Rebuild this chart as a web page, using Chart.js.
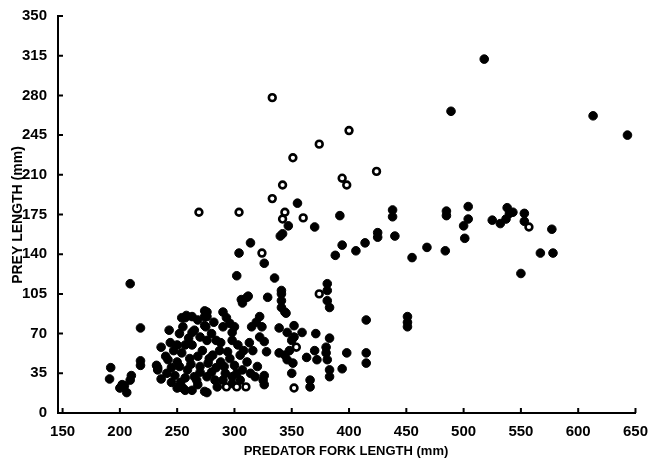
<!doctype html>
<html>

<head>
  <meta charset="utf-8">
  <style>
    html, body { margin: 0; padding: 0; background: #fff; }
    #wrap { width: 650px; height: 464px; }
  </style>
</head>

<body>
  <div id="wrap">
    <canvas id="preyChart" width="650" height="464"></canvas>
  </div>

  <script src="https://cdn.jsdelivr.net/npm/chart.js"></script>
  <script>
    // axis ticks and titles
    var xTicks = [150, 200, 250, 300, 350, 400, 450, 500, 550, 600, 650];
    var yTicks = [0, 35, 70, 105, 140, 175, 210, 245, 280, 315, 350];
    var xTitle = 'PREDATOR FORK LENGTH (mm)';
    var yTitle = 'PREY LENGTH (mm)';

    // filled circles: [predator fork length, prey length]
    var filledPrey = [
      [518, 312], [489, 266], [613, 262], [643, 245],
      [485, 178], [485, 174], [504, 182], [504, 171], [500, 165], [501, 154], [468, 146], [484, 143],
      [525, 170], [532, 167], [538, 181], [540, 176], [537, 171], [543, 177], [553, 176], [553, 169],
      [577, 162], [567, 141], [578, 141], [550, 123],
      [438, 179], [438, 173], [414, 150], [425, 159], [425, 155], [440, 156], [455, 137],
      [415, 82], [451, 85], [451, 80], [451, 76],
      [392, 174], [370, 164], [394, 148], [388, 139], [406, 143],
      [381, 114], [381, 108], [381, 99], [383, 93],
      [355, 185], [347, 165], [342, 158], [340, 156], [314, 150], [304, 141], [326, 132], [302, 121], [335, 119],
      [341, 108], [329, 102], [312, 103], [306, 100],
      [209, 114], [218, 75], [218, 46], [218, 42], [192, 40], [191, 30], [202, 25], [200, 22], [210, 33],
      [209, 29], [206, 18], [204, 24],
      [236, 58], [233, 40], [243, 73], [254, 84], [232, 42], [233, 38], [242, 47], [241, 35], [245, 27],
      [250, 22], [257, 20], [263, 20], [257, 84], [263, 85], [263, 71], [276, 89], [276, 85], [275, 76],
      [276, 64], [276, 18], [267, 29],
      [311, 102], [307, 97], [341, 105], [341, 99], [341, 93], [345, 88],
      [274, 90], [274, 85], [258, 86], [290, 89], [293, 84], [296, 79], [300, 76], [322, 85], [319, 80],
      [315, 76], [324, 76], [274, 77], [255, 76], [265, 73], [252, 70], [339, 75], [346, 71], [284, 64],
      [263, 60], [257, 60], [298, 64], [303, 60], [313, 62], [322, 67], [326, 63], [328, 54], [339, 53],
      [254, 53], [261, 48], [272, 55], [281, 51], [294, 54], [305, 51], [311, 45], [252, 41], [259, 38],
      [270, 41], [277, 44], [284, 40], [291, 41], [300, 42], [307, 38], [320, 41], [326, 33], [318, 32],
      [257, 31], [265, 32], [276, 32], [283, 29], [290, 29], [298, 32], [305, 29], [255, 22], [274, 19],
      [298, 26], [325, 29], [326, 25], [278, 48], [287, 55], [296, 48], [298, 71], [290, 76], [270, 67],
      [280, 70],
      [344, 89], [352, 77], [359, 71], [371, 70], [383, 66], [380, 58], [380, 53], [381, 47], [383, 38],
      [383, 32], [398, 53], [394, 39], [415, 53], [415, 44], [352, 67], [350, 64], [348, 55], [370, 55],
      [372, 47], [344, 51], [346, 47], [351, 44], [363, 49], [350, 35], [366, 29], [366, 23],
      [247, 55], [250, 45], [245, 40], [248, 33], [253, 27], [244, 62], [260, 66], [268, 50], [262, 43],
      [270, 36], [280, 36], [288, 45], [292, 35], [302, 35], [308, 55], [314, 35], [316, 55], [268, 25],
      [285, 23], [250, 60], [288, 62], [282, 80], [268, 82], [240, 50], [236, 30]
    ];

    // open circles
    var openPrey = [
      [333, 278], [400, 249], [374, 237], [351, 225], [424, 213], [394, 207], [398, 201], [342, 201],
      [333, 189], [304, 177], [269, 177], [344, 177], [342, 171], [360, 172], [324, 141], [374, 105],
      [557, 164], [354, 58], [352, 22], [293, 23], [302, 23], [310, 23]
    ];

    function toPoints(list) {
      return list.map(function (p) { return { x: p[0], y: p[1] }; });
    }

    var tickFont = { family: 'Liberation Sans', size: 15, weight: 'bold' };

    // inward tick marks and axis titles
    var axisDecor = {
      id: 'axisDecor',
      afterDraw: function (chart) {
        var ctx = chart.ctx;
        var a = chart.chartArea;
        var x = chart.scales.x;
        var y = chart.scales.y;
        ctx.save();
        ctx.strokeStyle = '#000';
        ctx.lineWidth = 2;
        ctx.beginPath();
        xTicks.forEach(function (v) {
          var px = x.getPixelForValue(v);
          ctx.moveTo(px, a.bottom);
          ctx.lineTo(px, a.bottom - 5);
        });
        yTicks.forEach(function (v) {
          var py = y.getPixelForValue(v);
          ctx.moveTo(a.left, py);
          ctx.lineTo(a.left + 5, py);
        });
        ctx.stroke();

        ctx.fillStyle = '#000';
        ctx.textAlign = 'center';
        ctx.textBaseline = 'middle';
        ctx.font = 'bold 13px "Liberation Sans"';
        ctx.fillText(xTitle, 346, 451);
        ctx.font = 'bold 14px "Liberation Sans"';
        ctx.translate(18, 215);
        ctx.rotate(-Math.PI / 2);
        ctx.fillText(yTitle, 0, 0);
        ctx.restore();
      }
    };

    var ctx = document.getElementById('preyChart').getContext('2d');
    var preyChart = new Chart(ctx, {
      type: 'scatter',
      data: {
        datasets: [{
          label: 'open',
          data: toPoints(openPrey),
          pointRadius: 3.4,
          pointBorderWidth: 2.6,
          pointBackgroundColor: '#fff',
          pointBorderColor: '#000',
          order: 0
        }, {
          label: 'filled',
          data: toPoints(filledPrey),
          pointRadius: 4.3,
          pointBorderWidth: 1,
          pointBackgroundColor: '#000',
          pointBorderColor: '#000',
          order: 1
        }]
      },
      options: {
        responsive: false,
        animation: false,
        layout: { padding: { top: 16, right: 14, left: 0, bottom: 0 } },
        plugins: {
          legend: { display: false },
          tooltip: { enabled: false }
        },
        scales: {
          x: {
            type: 'linear',
            min: 146,
            max: 650,
            grid: { display: false },
            border: { display: true, color: '#000', width: 2 },
            ticks: { font: tickFont, color: '#000', padding: 2, maxRotation: 0, autoSkip: false },
            afterBuildTicks: function (s) { s.ticks = xTicks.map(function (v) { return { value: v }; }); },
            afterFit: function (s) { s.height = 51; }
          },
          y: {
            type: 'linear',
            min: 0,
            max: 350,
            grid: { display: false },
            border: { display: true, color: '#000', width: 2 },
            ticks: { font: tickFont, color: '#000', padding: 3, autoSkip: false },
            afterBuildTicks: function (s) { s.ticks = yTicks.map(function (v) { return { value: v }; }); },
            afterFit: function (s) { s.width = 58; }
          }
        }
      },
      plugins: [axisDecor]
    });
  </script>
</body>

</html>
